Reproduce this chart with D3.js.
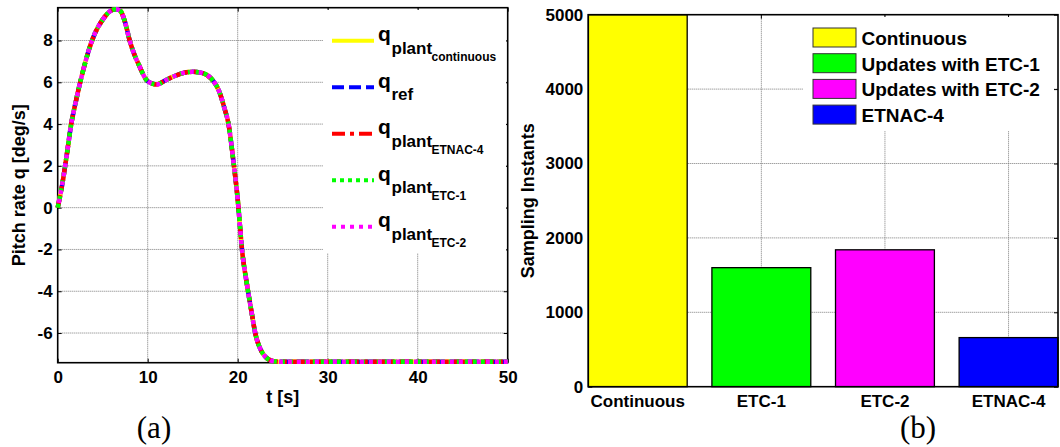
<!DOCTYPE html>
<html>
<head>
<meta charset="utf-8">
<script src="https://cdn.jsdelivr.net/npm/d3@7"></script>
<style>
  html, body { margin: 0; padding: 0; background: #fff; }
  svg { display: block; }
  text { font-family: "Liberation Sans", Arial, sans-serif; font-weight: bold; fill: #000; }
  .caption { font-family: "Liberation Serif", "Times New Roman", serif; font-weight: normal; }
</style>
</head>
<body>
<svg id="fig" width="1060" height="447"></svg>
<script>
// ---- (a) pitch-rate response -------------------------------------------
const tSec = [0, 0.5, 1, 1.5, 2, 2.5, 3, 3.5, 4, 5, 6, 6.5, 7, 7.5, 8, 8.5, 9, 10, 11, 12, 13, 14, 15, 16, 17, 18, 18.5, 19, 19.5, 20, 20.5, 21, 21.5, 22, 22.5, 23, 23.5, 24, 25, 30, 40, 50];
const qRef = [0, 1.1, 2.5, 4.0, 5.05, 6.0, 6.85, 7.6, 8.2, 9.0, 9.45, 9.5, 9.4, 8.85, 8.0, 7.35, 6.85, 6.05, 5.9, 6.1, 6.3, 6.45, 6.5, 6.45, 6.2, 5.5, 4.8, 3.95, 2.3, 0.4, -2.1, -3.6, -4.9, -6.1, -6.75, -7.1, -7.28, -7.35, -7.38, -7.38, -7.38, -7.38];
const qPlantContinuous = [0, 1.1, 2.5, 4.0, 5.05, 6.0, 6.85, 7.6, 8.2, 9.0, 9.45, 9.5, 9.4, 8.85, 8.0, 7.35, 6.85, 6.05, 5.9, 6.1, 6.3, 6.45, 6.5, 6.45, 6.2, 5.5, 4.8, 3.95, 2.3, 0.4, -2.1, -3.6, -4.9, -6.1, -6.75, -7.1, -7.28, -7.35, -7.38, -7.38, -7.38, -7.38];
const qPlantEtnac4 = [0, 1.1, 2.5, 4.0, 5.05, 6.0, 6.85, 7.6, 8.2, 9.0, 9.45, 9.5, 9.4, 8.85, 8.0, 7.35, 6.85, 6.05, 5.9, 6.1, 6.3, 6.45, 6.5, 6.45, 6.2, 5.5, 4.8, 3.95, 2.3, 0.4, -2.1, -3.6, -4.9, -6.1, -6.75, -7.1, -7.28, -7.35, -7.38, -7.38, -7.38, -7.38];
const qPlantEtc1 = [0, 1.1, 2.5, 4.0, 5.05, 6.0, 6.85, 7.6, 8.2, 9.0, 9.45, 9.5, 9.4, 8.85, 8.0, 7.35, 6.85, 6.05, 5.9, 6.1, 6.3, 6.45, 6.5, 6.45, 6.2, 5.5, 4.8, 3.95, 2.3, 0.4, -2.1, -3.6, -4.9, -6.1, -6.75, -7.1, -7.28, -7.35, -7.38, -7.38, -7.38, -7.38];
const qPlantEtc2 = [0, 1.1, 2.5, 4.0, 5.05, 6.0, 6.85, 7.6, 8.2, 9.0, 9.45, 9.5, 9.4, 8.85, 8.0, 7.35, 6.85, 6.05, 5.9, 6.1, 6.3, 6.45, 6.5, 6.45, 6.2, 5.5, 4.8, 3.95, 2.3, 0.4, -2.1, -3.6, -4.9, -6.1, -6.75, -7.1, -7.28, -7.35, -7.38, -7.38, -7.38, -7.38];
const tTicks = [0, 10, 20, 30, 40, 50];
const qTicks = [-6, -4, -2, 0, 2, 4, 6, 8];
const tDomain = [0, 50];
const qDomain = [-7.42, 9.57];

// legend entries: main symbol, subscript, second-level subscript
const seriesLegend = [
  { main: "q", sub: "plant", subsub: "continuous" },
  { main: "q", sub: "ref", subsub: "" },
  { main: "q", sub: "plant", subsub: "ETNAC-4" },
  { main: "q", sub: "plant", subsub: "ETC-1" },
  { main: "q", sub: "plant", subsub: "ETC-2" }
];

// ---- (b) number of sampling instants ------------------------------------
const schemes = ["Continuous", "ETC-1", "ETC-2", "ETNAC-4"];
const samplingInstants = [5000, 1600, 1840, 660];
const countTicks = [0, 1000, 2000, 3000, 4000, 5000];
const barLegend = ["Continuous", "Updates with ETC-1", "Updates with ETC-2", "ETNAC-4"];

const svg = d3.select("#fig");
const gridColor = "#7a7a7a";

// ======================= panel (a) =======================
const A = { left: 57.7, right: 507.7, top: 7.7, bottom: 362.7 };
const x = d3.scaleLinear().domain(tDomain).range([A.left, A.right]);
const y = d3.scaleLinear().domain(qDomain).range([A.bottom, A.top]);

const pa = svg.append("g");

// grid
pa.append("g").selectAll("line").data(tTicks.slice(1, -1)).join("line")
  .attr("x1", d => x(d)).attr("x2", d => x(d))
  .attr("y1", A.top).attr("y2", A.bottom)
  .attr("stroke", gridColor).attr("stroke-width", 1).attr("stroke-dasharray", "1,1");
pa.append("g").selectAll("line").data(qTicks).join("line")
  .attr("x1", A.left).attr("x2", A.right)
  .attr("y1", d => y(d)).attr("y2", d => y(d))
  .attr("stroke", gridColor).attr("stroke-width", 1).attr("stroke-dasharray", "1,1");

// axes (inward ticks on all four sides)
const fmt = d => String(d);
pa.append("g").attr("transform", `translate(0,${A.bottom})`)
  .call(d3.axisBottom(x).tickValues(tTicks).tickFormat(fmt).tickSize(-4).tickPadding(8))
  .call(g => g.select(".domain").remove());
pa.append("g").attr("transform", `translate(0,${A.top})`)
  .call(d3.axisTop(x).tickValues(tTicks).tickFormat("").tickSize(-4))
  .call(g => g.select(".domain").remove());
pa.append("g").attr("transform", `translate(${A.left},0)`)
  .call(d3.axisLeft(y).tickValues(qTicks).tickFormat(fmt).tickSize(-4).tickPadding(5))
  .call(g => g.select(".domain").remove());
pa.append("g").attr("transform", `translate(${A.right},0)`)
  .call(d3.axisRight(y).tickValues(qTicks).tickFormat("").tickSize(-4))
  .call(g => g.select(".domain").remove());
pa.selectAll(".tick text").style("font-size", "17px").style("font-family", "Liberation Sans, Arial, sans-serif").style("font-weight", "bold");
pa.selectAll(".tick line").attr("stroke", "#000");

// box
pa.append("rect").attr("x", A.left).attr("y", A.top)
  .attr("width", A.right - A.left).attr("height", A.bottom - A.top)
  .attr("fill", "none").attr("stroke", "#000").attr("stroke-width", 1.6);

// response curves
const series = [
  { values: qPlantContinuous, color: "#ffff00", dash: null, offset: 0 },
  { values: qRef, color: "#0000ff", dash: "12,5", offset: 0 },
  { values: qPlantEtnac4, color: "#ff0000", dash: "13,5,4,5", offset: 0 },
  { values: qPlantEtc1, color: "#00ff00", dash: "4,4", offset: 0 },
  { values: qPlantEtc2, color: "#ff00ff", dash: "4,5", offset: 4 }
];
const line = d3.line().x(d => x(d[0])).y(d => y(d[1])).curve(d3.curveMonotoneX);
pa.append("g").selectAll("path").data(series).join("path")
  .attr("d", s => line(tSec.map((t, i) => [t, s.values[i]])))
  .attr("fill", "none")
  .attr("stroke", s => s.color)
  .attr("stroke-width", 4.5)
  .attr("stroke-dasharray", s => s.dash)
  .attr("stroke-dashoffset", s => s.offset);

// legend
const legA = pa.append("g");
legA.append("rect").attr("x", 323).attr("y", 10).attr("width", 183).attr("height", 243).attr("fill", "#fff");
const rowY0 = 40.7, rowStep = 46.5;
const rows = legA.selectAll("g.row").data(seriesLegend).join("g").attr("class", "row")
  .attr("transform", (d, i) => `translate(0,${rowY0 + i * rowStep})`);
rows.append("line")
  .attr("x1", 332).attr("x2", 374).attr("y1", 0).attr("y2", 0)
  .attr("stroke", (d, i) => series[i].color).attr("stroke-width", 4)
  .attr("stroke-dasharray", (d, i) => series[i].dash);
rows.append("text").attr("x", 378).attr("y", 0.5).style("font-size", "21px").text(d => d.main);
rows.append("text").attr("x", 391.5).attr("y", 13).style("font-size", "17px").text(d => d.sub);
rows.append("text").attr("x", 431.5).attr("y", 20).style("font-size", "12px").text(d => d.subsub);

// labels
pa.append("text").attr("x", (A.left + A.right) / 2).attr("y", 403)
  .attr("text-anchor", "middle").style("font-size", "18px").text("t [s]");
pa.append("text").attr("transform", `translate(25,${(A.top + A.bottom) / 2}) rotate(-90)`)
  .attr("text-anchor", "middle").style("font-size", "18px").text("Pitch rate q [deg/s]");
svg.append("text").attr("class", "caption").attr("x", 154).attr("y", 438)
  .attr("text-anchor", "middle").style("font-size", "31px").text("(a)");

// ======================= panel (b) =======================
const B = { left: 588.3, right: 1058, top: 14.7, bottom: 386.7 };
const xb = d3.scaleBand().domain(schemes).range([B.left, B.right]).paddingInner(0.2).paddingOuter(0);
const yb = d3.scaleLinear().domain([0, 5000]).range([B.bottom, B.top]);
const barColors = ["#ffff00", "#00ff00", "#ff00ff", "#0000ff"];

const pb = svg.append("g");

// grid
pb.append("g").selectAll("line").data(schemes).join("line")
  .attr("x1", d => xb(d) + xb.bandwidth() / 2).attr("x2", d => xb(d) + xb.bandwidth() / 2)
  .attr("y1", B.top).attr("y2", B.bottom)
  .attr("stroke", gridColor).attr("stroke-width", 1).attr("stroke-dasharray", "1,1");
pb.append("g").selectAll("line").data(countTicks.slice(1, -1)).join("line")
  .attr("x1", B.left).attr("x2", B.right)
  .attr("y1", d => yb(d)).attr("y2", d => yb(d))
  .attr("stroke", gridColor).attr("stroke-width", 1).attr("stroke-dasharray", "1,1");

// ticks (drawn beneath the bars)
pb.append("g").attr("transform", `translate(0,${B.bottom})`)
  .call(d3.axisBottom(xb).tickSize(-4).tickPadding(8))
  .call(g => g.select(".domain").remove());
pb.append("g").attr("transform", `translate(0,${B.top})`)
  .call(d3.axisTop(xb).tickFormat("").tickSize(-4))
  .call(g => g.select(".domain").remove());
pb.append("g").attr("transform", `translate(${B.left},0)`)
  .call(d3.axisLeft(yb).tickValues(countTicks).tickFormat(fmt).tickSize(-4).tickPadding(5))
  .call(g => g.select(".domain").remove());
pb.append("g").attr("transform", `translate(${B.right},0)`)
  .call(d3.axisRight(yb).tickValues(countTicks).tickFormat("").tickSize(-4))
  .call(g => g.select(".domain").remove());
pb.selectAll(".tick text").style("font-size", "17px").style("font-family", "Liberation Sans, Arial, sans-serif").style("font-weight", "bold");
pb.selectAll(".tick line").attr("stroke", "#000");

// bars
pb.append("g").selectAll("rect").data(schemes).join("rect")
  .attr("x", d => xb(d)).attr("width", xb.bandwidth())
  .attr("y", (d, i) => yb(samplingInstants[i]))
  .attr("height", (d, i) => yb(0) - yb(samplingInstants[i]))
  .attr("fill", (d, i) => barColors[i])
  .attr("stroke", "#000").attr("stroke-width", 1.3);

// box
pb.append("rect").attr("x", B.left).attr("y", B.top)
  .attr("width", B.right - B.left).attr("height", B.bottom - B.top)
  .attr("fill", "none").attr("stroke", "#000").attr("stroke-width", 1.6);

// legend
const legB = pb.append("g");
legB.append("rect").attr("x", 803).attr("y", 17).attr("width", 251).attr("height", 114).attr("fill", "#fff");
const bRows = legB.selectAll("g.row").data(barLegend).join("g").attr("class", "row")
  .attr("transform", (d, i) => `translate(0,${37.5 + i * 25.7})`);
bRows.append("rect").attr("x", 813).attr("y", -9.5).attr("width", 43).attr("height", 19)
  .attr("fill", (d, i) => barColors[i]).attr("stroke", "#333").attr("stroke-width", 1);
bRows.append("text").attr("x", 861.5).attr("y", 7.5).style("font-size", "19px").text(d => d);

// labels
pb.append("text").attr("transform", `translate(534,${(B.top + B.bottom) / 2}) rotate(-90)`)
  .attr("text-anchor", "middle").style("font-size", "18px").text("Sampling Instants");
svg.append("text").attr("class", "caption").attr("x", 918).attr("y", 438)
  .attr("text-anchor", "middle").style("font-size", "31px").text("(b)");
</script>
</body>
</html>
